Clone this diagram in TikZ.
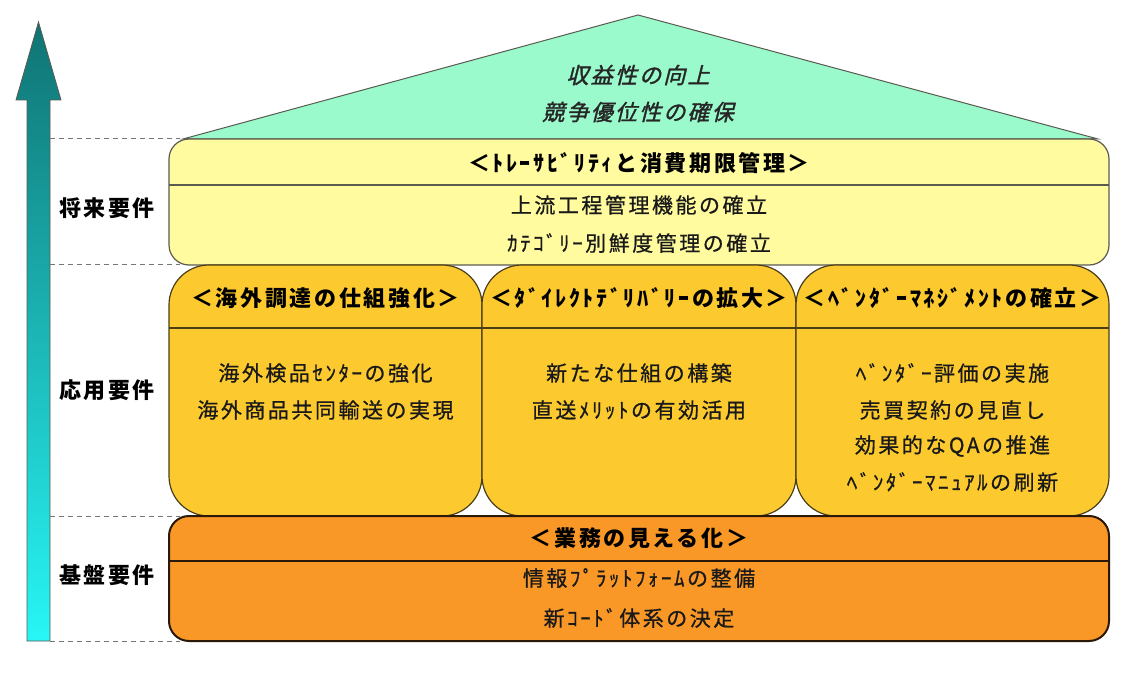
\documentclass[tikz,border=0pt]{standalone}
\usepackage{fontspec}
\newfontfamily\jp[LetterSpace=12]{Noto Sans CJK JP}
\newfontfamily\jpb[LetterSpace=12,FakeBold=0.7]{Noto Sans CJK JP}
\newfontfamily\jpsl[LetterSpace=10,FakeSlant=0.25,FakeBold=1.5]{Noto Sans CJK JP}
\definecolor{rooffill}{HTML}{9AFACC}
\definecolor{yelfill}{HTML}{FFFB9E}
\definecolor{midfill}{HTML}{FCCA2F}
\definecolor{orafill}{HTML}{F99826}
\definecolor{arrtop}{HTML}{107373}
\definecolor{arrbot}{HTML}{28F6F6}
\definecolor{lightline}{HTML}{5A5A50}
\definecolor{midline}{HTML}{4A3E18}
\definecolor{oraline}{HTML}{2A1808}
\definecolor{dashcol}{HTML}{777777}
\begin{document}
\begin{tikzpicture}[x=1pt,y=-1pt,
  lvl/.style={font=\jp\bfseries\fontsize{22}{22}\selectfont, text=black, inner sep=0},
  hdr/.style={font=\jp\bfseries\fontsize{22}{22}\selectfont, text=black, inner sep=0},
  body/.style={font=\jpb\fontsize{21}{21}\selectfont, text=black!90, inner sep=0},
  rooftxt/.style={font=\jpsl\fontsize{22}{22}\selectfont, text=black!85, inner sep=0},
  panel/.style={inner sep=0, minimum width=#1},
  dashline/.style={draw=dashcol, dash pattern=on 5pt off 4pt, line width=1pt}
]
\useasboundingbox (0,0) rectangle (1140,676);

% rising arrow
\draw[draw=lightline, line width=0.8pt, top color=arrtop, bottom color=arrbot]
  (27,641) -- (27,100) -- (16,100) -- (38.5,22) -- (61,100) -- (50,100) -- (50,641) -- cycle;

% level separators
\coordinate (d1a) at (50,139); \coordinate (d1b) at (180,139);
\coordinate (d2a) at (50,265); \coordinate (d2b) at (180,265);
\coordinate (d3a) at (50,516); \coordinate (d3b) at (180,516);
\coordinate (d4a) at (50,641); \coordinate (d4b) at (180,641);
\draw[dashline] (d1a) -- (d1b);
\draw[dashline] (d2a) -- (d2b);
\draw[dashline] (d3a) -- (d3b);
\draw[dashline] (d4a) -- (d4b);

% roof
\coordinate (rl) at (183,139);
\coordinate (rt) at (638,15);
\coordinate (rr) at (1098,139);
\draw[draw=lightline, line width=1pt, fill=rooffill] (rl) -- (rt) -- (rr) -- cycle;
\node[rooftxt] (roof1) at (638,75) {収益性の向上};
\node[rooftxt] (roof2) at (638,112) {競争優位性の確保};

% future layer
\node[panel=940pt, minimum height=126pt, rounded corners=20pt, draw=lightline, line width=1.2pt, fill=yelfill] (yel) at (639,202) {};
\draw[draw=lightline, line width=1.2pt] (169,185) -- (1109,185);
\node[hdr] (yelh) at (639,163) {＜ﾄﾚｰｻﾋﾞﾘﾃｨと消費期限管理＞};
\node[body] (yel1) at (639,205) {上流工程管理機能の確立};
\node[body] (yel2) at (639,243) {ｶﾃｺﾞﾘｰ別鮮度管理の確立};

% application layer
\node[panel=313pt, minimum height=251pt, rounded corners=40pt, draw=midline, line width=1.2pt, fill=midfill] (m1) at (325.5,390.5) {};
\node[panel=314pt, minimum height=251pt, rounded corners=40pt, draw=midline, line width=1.2pt, fill=midfill] (m2) at (639,390.5) {};
\node[panel=313pt, minimum height=251pt, rounded corners=40pt, draw=midline, line width=1.2pt, fill=midfill] (m3) at (952.5,390.5) {};
\draw[draw=midline, line width=1.2pt] (169,328) -- (1109,328);
\node[hdr] (m1h) at (325.5,298) {＜海外調達の仕組強化＞};
\node[hdr] (m2h) at (639,298) {＜ﾀﾞｲﾚｸﾄﾃﾞﾘﾊﾞﾘｰの拡大＞};
\node[hdr] (m3h) at (952.5,298) {＜ﾍﾞﾝﾀﾞｰﾏﾈｼﾞﾒﾝﾄの確立＞};
\node[body] (m1a) at (325.5,373) {海外検品ｾﾝﾀｰの強化};
\node[body] (m1b) at (325.5,410) {海外商品共同輸送の実現};
\node[body] (m2a) at (639,373) {新たな仕組の構築};
\node[body] (m2b) at (639,410) {直送ﾒﾘｯﾄの有効活用};
\node[body] (m3a) at (952.5,373) {ﾍﾞﾝﾀﾞｰ評価の実施};
\node[body] (m3b) at (952.5,410) {売買契約の見直し};
\node[body] (m3c) at (952.5,446) {効果的なQAの推進};
\node[body] (m3d) at (952.5,482) {ﾍﾞﾝﾀﾞｰﾏﾆｭｱﾙの刷新};

% foundation layer
\node[panel=940pt, minimum height=125pt, rounded corners=20pt, draw=oraline, line width=2pt, fill=orafill] (ora) at (639,578.5) {};
\draw[draw=oraline, line width=2pt] (169,561) -- (1109,561);
\node[hdr] (orah) at (639,538) {＜業務の見える化＞};
\node[body] (ora1) at (639,578) {情報ﾌﾟﾗｯﾄﾌｫｰﾑの整備};
\node[body] (ora2) at (639,618) {新ｺｰﾄﾞ体系の決定};

% level labels
\node[lvl] (l1) at (107,208) {将来要件};
\node[lvl] (l2) at (107,390) {応用要件};
\node[lvl] (l3) at (107,575) {基盤要件};
\end{tikzpicture}
\end{document}
